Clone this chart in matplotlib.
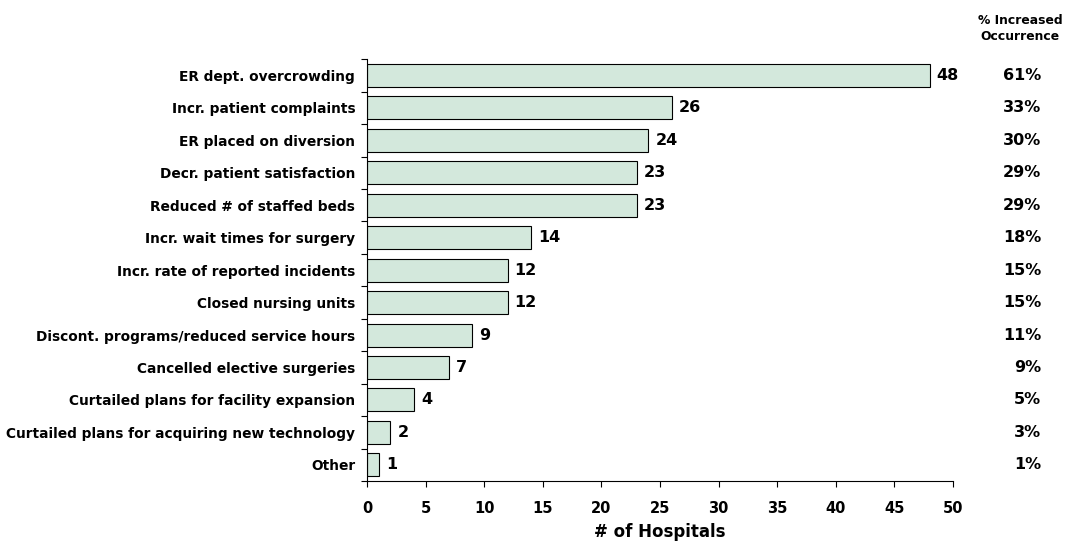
import matplotlib
matplotlib.use("Agg")
import matplotlib.pyplot as plt
from matplotlib.transforms import blended_transform_factory

categories = [
    "ER dept. overcrowding",
    "Incr. patient complaints",
    "ER placed on diversion",
    "Decr. patient satisfaction",
    "Reduced # of staffed beds",
    "Incr. wait times for surgery",
    "Incr. rate of reported incidents",
    "Closed nursing units",
    "Discont. programs/reduced service hours",
    "Cancelled elective surgeries",
    "Curtailed plans for facility expansion",
    "Curtailed plans for acquiring new technology",
    "Other",
]
hospitals = [48, 26, 24, 23, 23, 14, 12, 12, 9, 7, 4, 2, 1]
pct_increase = ["61%", "33%", "30%", "29%", "29%", "18%", "15%", "15%",
                "11%", "9%", "5%", "3%", "1%"]
xticks = [0, 5, 10, 15, 20, 25, 30, 35, 40, 45, 50]

plt.rcParams['font.family'] = ['DejaVu Sans']

W, H = 1071, 544
fig = plt.figure(figsize=(W / 100, H / 100), dpi=100)
ax = fig.add_axes([367 / W, 1 - 481 / H, (953 - 367) / W, (481 - 59.3) / H])

n = len(categories)
ypos = list(range(n))
ax.barh(ypos, hospitals, height=0.71, color="#d3e8dc", edgecolor="black", linewidth=0.8)
ax.set_ylim(n - 0.5, -0.5)
ax.set_xlim(0, 50)

# tick marks sit between the categories, labels at the bar centres
ax.set_yticks([i - 0.5 for i in range(n + 1)])
ax.set_yticklabels([])
ax.set_yticks(ypos, minor=True)
ax.set_yticklabels(categories, minor=True, fontsize=9.9, fontweight="bold")
ax.tick_params(axis="y", which="minor", length=0, pad=8.5)
ax.tick_params(axis="y", which="major", length=4, direction="out", width=0.8)

ax.set_xticks(xticks)
ax.set_xticklabels([str(t) for t in xticks], fontsize=10.5, fontweight="bold")
ax.tick_params(axis="x", length=4, direction="out", width=0.8, pad=10.5)
ax.set_xlabel("# of Hospitals", fontsize=12, fontweight="bold", labelpad=5)

for s in ["top", "right"]:
    ax.spines[s].set_visible(False)
for s in ["left", "bottom"]:
    ax.spines[s].set_linewidth(0.8)

for y, v in zip(ypos, hospitals):
    ax.text(v + 0.6, y, str(v), va="center", ha="left", fontsize=11.5,
            fontweight="bold")

trans = blended_transform_factory(fig.transFigure, ax.transData)
for y, p in zip(ypos, pct_increase):
    ax.text(1041 / W, y, p, transform=trans, va="center", ha="right",
            fontsize=11.5, fontweight="bold", clip_on=False)

fig.text(1020 / W, 1 - 28 / H, "% Increased\nOccurrence", ha="center", va="center",
         fontsize=8.9, fontweight="bold", linespacing=1.3)

fig.savefig("out.png", dpi=100, facecolor="white")
